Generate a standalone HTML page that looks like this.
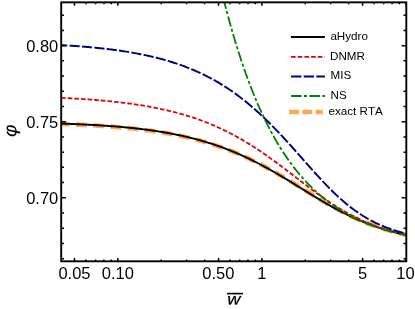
<!DOCTYPE html>
<html><head><meta charset="utf-8"><title>plot</title><style>html,body{margin:0;padding:0;background:#fff}svg{display:block;will-change:transform}</style></head><body>
<svg width="415" height="309" viewBox="0 0 415 309">
<rect width="415" height="309" fill="#fff"/>
<defs><clipPath id="c"><rect x="61.20" y="2.35" width="345.10" height="258.95"/></clipPath></defs>
<g clip-path="url(#c)" fill="none" stroke-linecap="butt" stroke-linejoin="round">
<path d="M61.20,123.94 L62.64,123.99 L64.09,124.05 L65.53,124.10 L66.98,124.16 L68.42,124.21 L69.86,124.27 L71.31,124.33 L72.75,124.39 L74.20,124.45 L75.64,124.52 L77.08,124.58 L78.53,124.65 L79.97,124.71 L81.42,124.78 L82.86,124.85 L84.30,124.93 L85.75,125.00 L87.19,125.08 L88.63,125.15 L90.08,125.23 L91.52,125.32 L92.97,125.40 L94.41,125.48 L95.85,125.57 L97.30,125.66 L98.74,125.75 L100.19,125.84 L101.63,125.94 L103.07,126.03 L104.52,126.13 L105.96,126.23 L107.41,126.34 L108.85,126.44 L110.29,126.55 L111.74,126.66 L113.18,126.77 L114.63,126.89 L116.07,127.01 L117.51,127.13 L118.96,127.25 L120.40,127.38 L121.85,127.51 L123.29,127.64 L124.73,127.77 L126.18,127.91 L127.62,128.05 L129.06,128.19 L130.51,128.34 L131.95,128.49 L133.40,128.64 L134.84,128.80 L136.28,128.96 L137.73,129.12 L139.17,129.29 L140.62,129.46 L142.06,129.64 L143.50,129.81 L144.95,130.00 L146.39,130.18 L147.84,130.37 L149.28,130.57 L150.72,130.76 L152.17,130.97 L153.61,131.17 L155.06,131.38 L156.50,131.60 L157.94,131.82 L159.39,132.04 L160.83,132.27 L162.28,132.50 L163.72,132.74 L165.16,132.99 L166.61,133.23 L168.05,133.49 L169.49,133.75 L170.94,134.01 L172.38,134.28 L173.83,134.56 L175.27,134.84 L176.71,135.12 L178.16,135.41 L179.60,135.71 L181.05,136.02 L182.49,136.33 L183.93,136.64 L185.38,136.96 L186.82,137.29 L188.27,137.63 L189.71,137.97 L191.15,138.32 L192.60,138.67 L194.04,139.03 L195.49,139.40 L196.93,139.78 L198.37,140.16 L199.82,140.55 L201.26,140.95 L202.71,141.35 L204.15,141.76 L205.59,142.18 L207.04,142.61 L208.48,143.04 L209.93,143.48 L211.37,143.94 L212.81,144.39 L214.26,144.86 L215.70,145.33 L217.14,145.82 L218.59,146.31 L220.03,146.81 L221.48,147.31 L222.92,147.83 L224.36,148.35 L225.81,148.89 L227.25,149.43 L228.70,149.98 L230.14,150.54 L231.58,151.11 L233.03,151.68 L234.47,152.27 L235.92,152.86 L237.36,153.47 L238.80,154.08 L240.25,154.70 L241.69,155.33 L243.14,155.97 L244.58,156.62 L246.02,157.27 L247.47,157.94 L248.91,158.61 L250.36,159.30 L251.80,159.99 L253.24,160.69 L254.69,161.40 L256.13,162.11 L257.57,162.84 L259.02,163.57 L260.46,164.32 L261.91,165.07 L263.35,165.83 L264.79,166.59 L266.24,167.37 L267.68,168.15 L269.13,168.94 L270.57,169.73 L272.01,170.54 L273.46,171.35 L274.90,172.16 L276.35,172.99 L277.79,173.82 L279.23,174.65 L280.68,175.49 L282.12,176.34 L283.57,177.19 L285.01,178.05 L286.45,178.91 L287.90,179.77 L289.34,180.64 L290.79,181.51 L292.23,182.39 L293.67,183.27 L295.12,184.15 L296.56,185.03 L298.01,185.92 L299.45,186.80 L300.89,187.69 L302.34,188.58 L303.78,189.47 L305.22,190.36 L306.67,191.24 L308.11,192.13 L309.56,193.02 L311.00,193.90 L312.44,194.78 L313.89,195.66 L315.33,196.54 L316.78,197.41 L318.22,198.28 L319.66,199.14 L321.11,200.00 L322.55,200.86 L324.00,201.71 L325.44,202.55 L326.88,203.39 L328.33,204.22 L329.77,205.04 L331.22,205.86 L332.66,206.67 L334.10,207.47 L335.55,208.26 L336.99,209.05 L338.44,209.82 L339.88,210.59 L341.32,211.35 L342.77,212.09 L344.21,212.83 L345.65,213.56 L347.10,214.28 L348.54,214.99 L349.99,215.69 L351.43,216.37 L352.87,217.05 L354.32,217.72 L355.76,218.37 L357.21,219.02 L358.65,219.65 L360.09,220.28 L361.54,220.89 L362.98,221.49 L364.43,222.08 L365.87,222.66 L367.31,223.23 L368.76,223.79 L370.20,224.33 L371.65,224.87 L373.09,225.40 L374.53,225.91 L375.98,226.42 L377.42,226.91 L378.87,227.40 L380.31,227.87 L381.75,228.34 L383.20,228.79 L384.64,229.24 L386.08,229.67 L387.53,230.10 L388.97,230.52 L390.42,230.93 L391.86,231.33 L393.30,231.72 L394.75,232.10 L396.19,232.47 L397.64,232.84 L399.08,233.20 L400.52,233.55 L401.97,233.89 L403.41,234.22 L404.86,234.55 L406.30,234.87" stroke="#ffa952" stroke-width="4.6" stroke-dasharray="11.05 6.2" stroke-dashoffset="2.45"/>
<path d="M61.20,123.59 L62.64,123.64 L64.09,123.68 L65.53,123.74 L66.98,123.79 L68.42,123.84 L69.86,123.89 L71.31,123.95 L72.75,124.01 L74.20,124.07 L75.64,124.12 L77.08,124.19 L78.53,124.25 L79.97,124.31 L81.42,124.38 L82.86,124.45 L84.30,124.52 L85.75,124.59 L87.19,124.66 L88.63,124.73 L90.08,124.81 L91.52,124.89 L92.97,124.97 L94.41,125.05 L95.85,125.13 L97.30,125.22 L98.74,125.30 L100.19,125.39 L101.63,125.49 L103.07,125.58 L104.52,125.68 L105.96,125.78 L107.41,125.88 L108.85,125.98 L110.29,126.09 L111.74,126.19 L113.18,126.30 L114.63,126.42 L116.07,126.53 L117.51,126.65 L118.96,126.77 L120.40,126.90 L121.85,127.03 L123.29,127.16 L124.73,127.29 L126.18,127.43 L127.62,127.56 L129.06,127.71 L130.51,127.85 L131.95,128.00 L133.40,128.16 L134.84,128.31 L136.28,128.47 L137.73,128.63 L139.17,128.80 L140.62,128.97 L142.06,129.15 L143.50,129.33 L144.95,129.51 L146.39,129.69 L147.84,129.89 L149.28,130.08 L150.72,130.28 L152.17,130.48 L153.61,130.69 L155.06,130.90 L156.50,131.12 L157.94,131.34 L159.39,131.57 L160.83,131.80 L162.28,132.04 L163.72,132.28 L165.16,132.53 L166.61,132.78 L168.05,133.04 L169.49,133.30 L170.94,133.57 L172.38,133.84 L173.83,134.12 L175.27,134.41 L176.71,134.70 L178.16,135.00 L179.60,135.30 L181.05,135.61 L182.49,135.92 L183.93,136.25 L185.38,136.58 L186.82,136.91 L188.27,137.25 L189.71,137.60 L191.15,137.96 L192.60,138.32 L194.04,138.69 L195.49,139.07 L196.93,139.45 L198.37,139.84 L199.82,140.24 L201.26,140.64 L202.71,141.06 L204.15,141.48 L205.59,141.91 L207.04,142.35 L208.48,142.79 L209.93,143.24 L211.37,143.70 L212.81,144.17 L214.26,144.65 L215.70,145.14 L217.14,145.63 L218.59,146.13 L220.03,146.64 L221.48,147.16 L222.92,147.69 L224.36,148.23 L225.81,148.77 L227.25,149.32 L228.70,149.89 L230.14,150.46 L231.58,151.04 L233.03,151.63 L234.47,152.23 L235.92,152.83 L237.36,153.45 L238.80,154.08 L240.25,154.71 L241.69,155.35 L243.14,156.00 L244.58,156.67 L246.02,157.34 L247.47,158.01 L248.91,158.70 L250.36,159.40 L251.80,160.10 L253.24,160.81 L254.69,161.54 L256.13,162.27 L257.57,163.00 L259.02,163.75 L260.46,164.51 L261.91,165.27 L263.35,166.04 L264.79,166.82 L266.24,167.60 L267.68,168.40 L269.13,169.20 L270.57,170.00 L272.01,170.82 L273.46,171.64 L274.90,172.47 L276.35,173.30 L277.79,174.14 L279.23,174.98 L280.68,175.83 L282.12,176.69 L283.57,177.55 L285.01,178.41 L286.45,179.28 L287.90,180.16 L289.34,181.03 L290.79,181.91 L292.23,182.80 L293.67,183.68 L295.12,184.57 L296.56,185.46 L298.01,186.35 L299.45,187.24 L300.89,188.13 L302.34,189.02 L303.78,189.92 L305.22,190.81 L306.67,191.70 L308.11,192.59 L309.56,193.48 L311.00,194.36 L312.44,195.24 L313.89,196.12 L315.33,197.00 L316.78,197.87 L318.22,198.74 L319.66,199.61 L321.11,200.47 L322.55,201.32 L324.00,202.17 L325.44,203.01 L326.88,203.84 L328.33,204.67 L329.77,205.49 L331.22,206.31 L332.66,207.11 L334.10,207.91 L335.55,208.70 L336.99,209.48 L338.44,210.25 L339.88,211.01 L341.32,211.76 L342.77,212.50 L344.21,213.24 L345.65,213.96 L347.10,214.67 L348.54,215.37 L349.99,216.06 L351.43,216.74 L352.87,217.41 L354.32,218.07 L355.76,218.72 L357.21,219.36 L358.65,219.99 L360.09,220.60 L361.54,221.20 L362.98,221.80 L364.43,222.38 L365.87,222.95 L367.31,223.51 L368.76,224.06 L370.20,224.60 L371.65,225.13 L373.09,225.65 L374.53,226.16 L375.98,226.66 L377.42,227.14 L378.87,227.62 L380.31,228.09 L381.75,228.55 L383.20,228.99 L384.64,229.43 L386.08,229.86 L387.53,230.28 L388.97,230.69 L390.42,231.10 L391.86,231.49 L393.30,231.87 L394.75,232.25 L396.19,232.62 L397.64,232.98 L399.08,233.33 L400.52,233.68 L401.97,234.01 L403.41,234.34 L404.86,234.66 L406.30,234.98" stroke="#000" stroke-width="1.9"/>
<path d="M61.20,97.83 L62.64,97.90 L64.09,97.97 L65.53,98.04 L66.98,98.12 L68.42,98.19 L69.86,98.27 L71.31,98.35 L72.75,98.43 L74.20,98.51 L75.64,98.60 L77.08,98.68 L78.53,98.77 L79.97,98.86 L81.42,98.95 L82.86,99.05 L84.30,99.15 L85.75,99.25 L87.19,99.35 L88.63,99.45 L90.08,99.56 L91.52,99.66 L92.97,99.78 L94.41,99.89 L95.85,100.00 L97.30,100.12 L98.74,100.24 L100.19,100.37 L101.63,100.49 L103.07,100.62 L104.52,100.76 L105.96,100.89 L107.41,101.03 L108.85,101.17 L110.29,101.32 L111.74,101.46 L113.18,101.61 L114.63,101.77 L116.07,101.93 L117.51,102.09 L118.96,102.25 L120.40,102.42 L121.85,102.59 L123.29,102.77 L124.73,102.95 L126.18,103.13 L127.62,103.32 L129.06,103.51 L130.51,103.71 L131.95,103.91 L133.40,104.11 L134.84,104.32 L136.28,104.53 L137.73,104.75 L139.17,104.98 L140.62,105.20 L142.06,105.44 L143.50,105.67 L144.95,105.92 L146.39,106.16 L147.84,106.42 L149.28,106.68 L150.72,106.94 L152.17,107.21 L153.61,107.48 L155.06,107.76 L156.50,108.05 L157.94,108.34 L159.39,108.64 L160.83,108.95 L162.28,109.26 L163.72,109.58 L165.16,109.90 L166.61,110.23 L168.05,110.57 L169.49,110.92 L170.94,111.27 L172.38,111.63 L173.83,112.00 L175.27,112.37 L176.71,112.75 L178.16,113.14 L179.60,113.54 L181.05,113.94 L182.49,114.35 L183.93,114.78 L185.38,115.20 L186.82,115.64 L188.27,116.09 L189.71,116.54 L191.15,117.01 L192.60,117.48 L194.04,117.96 L195.49,118.45 L196.93,118.95 L198.37,119.46 L199.82,119.97 L201.26,120.50 L202.71,121.04 L204.15,121.59 L205.59,122.14 L207.04,122.71 L208.48,123.29 L209.93,123.88 L211.37,124.47 L212.81,125.08 L214.26,125.70 L215.70,126.33 L217.14,126.97 L218.59,127.62 L220.03,128.28 L221.48,128.95 L222.92,129.64 L224.36,130.33 L225.81,131.04 L227.25,131.75 L228.70,132.48 L230.14,133.22 L231.58,133.97 L233.03,134.73 L234.47,135.51 L235.92,136.29 L237.36,137.09 L238.80,137.89 L240.25,138.71 L241.69,139.54 L243.14,140.38 L244.58,141.23 L246.02,142.10 L247.47,142.97 L248.91,143.86 L250.36,144.75 L251.80,145.66 L253.24,146.58 L254.69,147.50 L256.13,148.44 L257.57,149.39 L259.02,150.35 L260.46,151.32 L261.91,152.30 L263.35,153.29 L264.79,154.28 L266.24,155.29 L267.68,156.30 L269.13,157.33 L270.57,158.36 L272.01,159.40 L273.46,160.44 L274.90,161.50 L276.35,162.56 L277.79,163.63 L279.23,164.70 L280.68,165.78 L282.12,166.86 L283.57,167.95 L285.01,169.04 L286.45,170.14 L287.90,171.24 L289.34,172.35 L290.79,173.45 L292.23,174.56 L293.67,175.67 L295.12,176.78 L296.56,177.89 L298.01,179.00 L299.45,180.11 L300.89,181.22 L302.34,182.33 L303.78,183.43 L305.22,184.54 L306.67,185.63 L308.11,186.73 L309.56,187.82 L311.00,188.90 L312.44,189.98 L313.89,191.05 L315.33,192.12 L316.78,193.18 L318.22,194.23 L319.66,195.27 L321.11,196.30 L322.55,197.32 L324.00,198.34 L325.44,199.34 L326.88,200.33 L328.33,201.31 L329.77,202.28 L331.22,203.24 L332.66,204.18 L334.10,205.12 L335.55,206.04 L336.99,206.94 L338.44,207.84 L339.88,208.71 L341.32,209.58 L342.77,210.43 L344.21,211.27 L345.65,212.09 L347.10,212.90 L348.54,213.69 L349.99,214.47 L351.43,215.24 L352.87,215.99 L354.32,216.72 L355.76,217.44 L357.21,218.15 L358.65,218.84 L360.09,219.52 L361.54,220.18 L362.98,220.83 L364.43,221.47 L365.87,222.09 L367.31,222.70 L368.76,223.29 L370.20,223.88 L371.65,224.45 L373.09,225.00 L374.53,225.55 L375.98,226.08 L377.42,226.60 L378.87,227.11 L380.31,227.60 L381.75,228.09 L383.20,228.56 L384.64,229.02 L386.08,229.47 L387.53,229.92 L388.97,230.35 L390.42,230.77 L391.86,231.18 L393.30,231.58 L394.75,231.97 L396.19,232.36 L397.64,232.73 L399.08,233.10 L400.52,233.45 L401.97,233.80 L403.41,234.14 L404.86,234.47 L406.30,234.80" stroke="#e00000" stroke-width="1.8" stroke-dasharray="4.53 2.112" stroke-dashoffset="0.1"/>
<path d="M61.20,45.11 L62.64,45.19 L64.09,45.28 L65.53,45.37 L66.98,45.46 L68.42,45.55 L69.86,45.64 L71.31,45.74 L72.75,45.84 L74.20,45.94 L75.64,46.05 L77.08,46.15 L78.53,46.26 L79.97,46.37 L81.42,46.49 L82.86,46.60 L84.30,46.72 L85.75,46.84 L87.19,46.97 L88.63,47.09 L90.08,47.22 L91.52,47.36 L92.97,47.49 L94.41,47.63 L95.85,47.78 L97.30,47.92 L98.74,48.07 L100.19,48.22 L101.63,48.38 L103.07,48.54 L104.52,48.70 L105.96,48.87 L107.41,49.04 L108.85,49.21 L110.29,49.39 L111.74,49.57 L113.18,49.76 L114.63,49.95 L116.07,50.14 L117.51,50.34 L118.96,50.55 L120.40,50.75 L121.85,50.97 L123.29,51.18 L124.73,51.41 L126.18,51.63 L127.62,51.87 L129.06,52.10 L130.51,52.35 L131.95,52.59 L133.40,52.85 L134.84,53.11 L136.28,53.37 L137.73,53.64 L139.17,53.92 L140.62,54.20 L142.06,54.49 L143.50,54.79 L144.95,55.09 L146.39,55.40 L147.84,55.71 L149.28,56.03 L150.72,56.36 L152.17,56.70 L153.61,57.04 L155.06,57.39 L156.50,57.75 L157.94,58.12 L159.39,58.49 L160.83,58.87 L162.28,59.26 L163.72,59.66 L165.16,60.07 L166.61,60.48 L168.05,60.91 L169.49,61.34 L170.94,61.79 L172.38,62.24 L173.83,62.70 L175.27,63.17 L176.71,63.65 L178.16,64.14 L179.60,64.64 L181.05,65.15 L182.49,65.68 L183.93,66.21 L185.38,66.75 L186.82,67.31 L188.27,67.87 L189.71,68.45 L191.15,69.04 L192.60,69.64 L194.04,70.25 L195.49,70.88 L196.93,71.52 L198.37,72.17 L199.82,72.83 L201.26,73.51 L202.71,74.19 L204.15,74.90 L205.59,75.61 L207.04,76.34 L208.48,77.09 L209.93,77.85 L211.37,78.62 L212.81,79.40 L214.26,80.21 L215.70,81.02 L217.14,81.85 L218.59,82.70 L220.03,83.56 L221.48,84.44 L222.92,85.33 L224.36,86.24 L225.81,87.16 L227.25,88.10 L228.70,89.06 L230.14,90.04 L231.58,91.03 L233.03,92.03 L234.47,93.06 L235.92,94.10 L237.36,95.15 L238.80,96.23 L240.25,97.32 L241.69,98.43 L243.14,99.55 L244.58,100.69 L246.02,101.85 L247.47,103.03 L248.91,104.23 L250.36,105.44 L251.80,106.67 L253.24,107.91 L254.69,109.18 L256.13,110.46 L257.57,111.75 L259.02,113.07 L260.46,114.40 L261.91,115.74 L263.35,117.11 L264.79,118.49 L266.24,119.88 L267.68,121.29 L269.13,122.72 L270.57,124.16 L272.01,125.61 L273.46,127.08 L274.90,128.57 L276.35,130.06 L277.79,131.57 L279.23,133.09 L280.68,134.63 L282.12,136.17 L283.57,137.73 L285.01,139.30 L286.45,140.87 L287.90,142.46 L289.34,144.05 L290.79,145.66 L292.23,147.27 L293.67,148.88 L295.12,150.50 L296.56,152.13 L298.01,153.75 L299.45,155.39 L300.89,157.02 L302.34,158.65 L303.78,160.29 L305.22,161.92 L306.67,163.55 L308.11,165.18 L309.56,166.81 L311.00,168.43 L312.44,170.04 L313.89,171.65 L315.33,173.25 L316.78,174.84 L318.22,176.42 L319.66,177.99 L321.11,179.54 L322.55,181.09 L324.00,182.61 L325.44,184.13 L326.88,185.63 L328.33,187.11 L329.77,188.57 L331.22,190.02 L332.66,191.44 L334.10,192.85 L335.55,194.23 L336.99,195.59 L338.44,196.93 L339.88,198.25 L341.32,199.54 L342.77,200.81 L344.21,202.05 L345.65,203.27 L347.10,204.46 L348.54,205.63 L349.99,206.77 L351.43,207.89 L352.87,208.98 L354.32,210.05 L355.76,211.08 L357.21,212.10 L358.65,213.08 L360.09,214.04 L361.54,214.98 L362.98,215.89 L364.43,216.77 L365.87,217.64 L367.31,218.47 L368.76,219.29 L370.20,220.08 L371.65,220.84 L373.09,221.59 L374.53,222.31 L375.98,223.01 L377.42,223.69 L378.87,224.35 L380.31,225.00 L381.75,225.62 L383.20,226.22 L384.64,226.81 L386.08,227.38 L387.53,227.93 L388.97,228.46 L390.42,228.98 L391.86,229.49 L393.30,229.98 L394.75,230.45 L396.19,230.92 L397.64,231.36 L399.08,231.80 L400.52,232.22 L401.97,232.63 L403.41,233.03 L404.86,233.42 L406.30,233.80" stroke="#000087" stroke-width="1.95" stroke-dasharray="10.2 2.255" stroke-dashoffset="4.15"/>
<path d="M222.93,-3.65 L223.70,-0.58 L224.46,2.46 L225.23,5.46 L226.00,8.42 L226.77,11.35 L227.53,14.24 L228.30,17.09 L229.07,19.91 L229.83,22.70 L230.60,25.45 L231.37,28.17 L232.14,30.85 L232.90,33.51 L233.67,36.13 L234.44,38.72 L235.20,41.27 L235.97,43.80 L236.74,46.29 L237.51,48.76 L238.27,51.19 L239.04,53.60 L239.81,55.97 L240.58,58.32 L241.34,60.64 L242.11,62.93 L242.88,65.19 L243.64,67.42 L244.41,69.63 L245.18,71.81 L245.95,73.96 L246.71,76.09 L247.48,78.19 L248.25,80.27 L249.02,82.32 L249.78,84.34 L250.55,86.34 L251.32,88.32 L252.08,90.27 L252.85,92.20 L253.62,94.11 L254.39,95.99 L255.15,97.85 L255.92,99.68 L256.69,101.50 L257.45,103.29 L258.22,105.06 L258.99,106.81 L259.76,108.53 L260.52,110.24 L261.29,111.92 L262.06,113.59 L262.83,115.23 L263.59,116.86 L264.36,118.46 L265.13,120.05 L265.89,121.61 L266.66,123.16 L267.43,124.69 L268.20,126.20 L268.96,127.69 L269.73,129.16 L270.50,130.61 L271.27,132.05 L272.03,133.47 L272.80,134.87 L273.57,136.26 L274.33,137.62 L275.10,138.98 L275.87,140.31 L276.64,141.63 L277.40,142.93 L278.17,144.22 L278.94,145.49 L279.70,146.74 L280.47,147.98 L281.24,149.21 L282.01,150.42 L282.77,151.61 L283.54,152.80 L284.31,153.96 L285.08,155.11 L285.84,156.25 L286.61,157.38 L287.38,158.49 L288.14,159.58 L288.91,160.67 L289.68,161.74 L290.45,162.79 L291.21,163.84 L291.98,164.87 L292.75,165.89 L293.52,166.90 L294.28,167.89 L295.05,168.87 L295.82,169.84 L296.58,170.80 L297.35,171.75 L298.12,172.68 L298.89,173.61 L299.65,174.52 L300.42,175.42 L301.19,176.31 L301.95,177.19 L302.72,178.06 L303.49,178.92 L304.26,179.77 L305.02,180.61 L305.79,181.43 L306.56,182.25 L307.33,183.06 L308.09,183.86 L308.86,184.64 L309.63,185.42 L310.39,186.19 L311.16,186.95 L311.93,187.70 L312.70,188.44 L313.46,189.17 L314.23,189.90 L315.00,190.61 L315.77,191.31 L316.53,192.01 L317.30,192.70 L318.07,193.38 L318.83,194.05 L319.60,194.72 L320.37,195.37 L321.14,196.02 L321.90,196.66 L322.67,197.29 L323.44,197.91 L324.20,198.53 L324.97,199.14 L325.74,199.74 L326.51,200.33 L327.27,200.92 L328.04,201.50 L328.81,202.07 L329.58,202.64 L330.34,203.20 L331.11,203.75 L331.88,204.30 L332.64,204.83 L333.41,205.37 L334.18,205.89 L334.95,206.41 L335.71,206.92 L336.48,207.43 L337.25,207.93 L338.02,208.42 L338.78,208.91 L339.55,209.40 L340.32,209.87 L341.08,210.34 L341.85,210.81 L342.62,211.27 L343.39,211.72 L344.15,212.17 L344.92,212.61 L345.69,213.05 L346.46,213.48 L347.22,213.91 L347.99,214.33 L348.76,214.74 L349.52,215.16 L350.29,215.56 L351.06,215.96 L351.83,216.36 L352.59,216.75 L353.36,217.14 L354.13,217.52 L354.89,217.90 L355.66,218.27 L356.43,218.64 L357.20,219.00 L357.96,219.36 L358.73,219.72 L359.50,220.07 L360.27,220.41 L361.03,220.76 L361.80,221.09 L362.57,221.43 L363.33,221.76 L364.10,222.08 L364.87,222.41 L365.64,222.72 L366.40,223.04 L367.17,223.35 L367.94,223.65 L368.71,223.96 L369.47,224.26 L370.24,224.55 L371.01,224.84 L371.77,225.13 L372.54,225.42 L373.31,225.70 L374.08,225.97 L374.84,226.25 L375.61,226.52 L376.38,226.79 L377.14,227.05 L377.91,227.31 L378.68,227.57 L379.45,227.83 L380.21,228.08 L380.98,228.33 L381.75,228.57 L382.52,228.81 L383.28,229.05 L384.05,229.29 L384.82,229.53 L385.58,229.76 L386.35,229.98 L387.12,230.21 L387.89,230.43 L388.65,230.65 L389.42,230.87 L390.19,231.08 L390.96,231.30 L391.72,231.51 L392.49,231.71 L393.26,231.92 L394.02,232.12 L394.79,232.32 L395.56,232.52 L396.33,232.71 L397.09,232.90 L397.86,233.09 L398.63,233.28 L399.39,233.47 L400.16,233.65 L400.93,233.83 L401.70,234.01 L402.46,234.18 L403.23,234.36 L404.00,234.53 L404.77,234.70 L405.53,234.87 L406.30,235.04" stroke="#008000" stroke-width="1.8" stroke-dasharray="10.35 2.4 3.1 2.47" stroke-dashoffset="-2.4"/>
</g>
<g stroke="#000" fill="none">
<rect x="61.20" y="2.35" width="345.10" height="258.95" stroke-width="1.9"/>
<path d="M74.49,261.30v-3.30M74.49,2.35v3.30M85.89,261.30v-1.90M85.89,2.35v1.90M95.54,261.30v-1.90M95.54,2.35v1.90M103.89,261.30v-1.90M103.89,2.35v1.90M111.26,261.30v-1.90M111.26,2.35v1.90M117.85,261.30v-3.30M117.85,2.35v3.30M161.21,261.30v-1.90M161.21,2.35v1.90M186.58,261.30v-1.90M186.58,2.35v1.90M204.58,261.30v-1.90M204.58,2.35v1.90M218.54,261.30v-3.30M218.54,2.35v3.30M229.94,261.30v-1.90M229.94,2.35v1.90M239.59,261.30v-1.90M239.59,2.35v1.90M247.94,261.30v-1.90M247.94,2.35v1.90M255.31,261.30v-1.90M255.31,2.35v1.90M261.90,261.30v-3.30M261.90,2.35v3.30M305.26,261.30v-1.90M305.26,2.35v1.90M330.63,261.30v-1.90M330.63,2.35v1.90M348.63,261.30v-1.90M348.63,2.35v1.90M362.59,261.30v-3.30M362.59,2.35v3.30M373.99,261.30v-1.90M373.99,2.35v1.90M383.64,261.30v-1.90M383.64,2.35v1.90M391.99,261.30v-1.90M391.99,2.35v1.90M399.36,261.30v-1.90M399.36,2.35v1.90M405.95,261.30v-3.30M405.95,2.35v3.30M61.20,258.63h2.80M406.30,258.63h-2.80M61.20,243.41h2.80M406.30,243.41h-2.80M61.20,228.20h2.80M406.30,228.20h-2.80M61.20,212.98h2.80M406.30,212.98h-2.80M61.20,197.77h4.70M406.30,197.77h-4.70M61.20,182.56h2.80M406.30,182.56h-2.80M61.20,167.34h2.80M406.30,167.34h-2.80M61.20,152.13h2.80M406.30,152.13h-2.80M61.20,136.91h2.80M406.30,136.91h-2.80M61.20,121.70h4.70M406.30,121.70h-4.70M61.20,106.49h2.80M406.30,106.49h-2.80M61.20,91.27h2.80M406.30,91.27h-2.80M61.20,76.06h2.80M406.30,76.06h-2.80M61.20,60.84h2.80M406.30,60.84h-2.80M61.20,45.63h4.70M406.30,45.63h-4.70M61.20,30.42h2.80M406.30,30.42h-2.80M61.20,15.20h2.80M406.30,15.20h-2.80" stroke-width="1.5"/>
</g>
<g font-family="Liberation Sans, sans-serif" fill="#000">
<g font-size="16.5" text-anchor="end">
<text x="58.3" y="51.68">0.80</text>
<text x="58.3" y="127.75">0.75</text>
<text x="58.3" y="203.82">0.70</text>
</g>
<g font-size="16.5" text-anchor="middle">
<text x="74.49" y="279.0">0.05</text>
<text x="117.85" y="279.0">0.10</text>
<text x="218.34" y="279.0">0.50</text>
<text x="261.90" y="279.0">1</text>
<text x="362.59" y="279.0">5</text>
<text x="405.45" y="279.0">10</text>
</g>
<g font-size="11.65" style="font-kerning:none">
<text x="330.4" y="39.8">aHydro</text>
<text x="330.0" y="60.0">DNMR</text>
<text x="330.5" y="79.4">MIS</text>
<text x="330.5" y="98.9">NS</text>
<text x="328.5" y="114.5">exact RTA</text>
</g>
<path d="M977 1104Q1115 1104 1192.5 1006.0Q1270 908 1270 729Q1270 588 1229.5 441.0Q1189 294 1110.0 191.5Q1031 89 915.0 38.0Q799 -13 637 -18L558 -425H388L467 -18Q281 -10 176.0 109.0Q71 228 71 434Q71 706 209.5 888.0Q348 1070 586 1106L614 973Q495 945 416.5 871.0Q338 797 298.5 672.0Q259 547 259 423Q259 285 317.5 205.5Q376 126 494 119L606 699Q649 917 736.5 1010.5Q824 1104 977 1104ZM967 971Q894 971 848.5 906.0Q803 841 777 702L664 119Q775 122 851.0 165.0Q927 208 978.5 296.0Q1030 384 1058.5 519.5Q1087 655 1087 758Q1087 971 967 971Z" transform="matrix(0,-0.009341,-0.008785,0,16.366,137.013)" fill="#000" stroke="#000" stroke-width="14" stroke-linejoin="round"/>
<path d="M1068 0H859L822 698L816 934Q786 859 762.0 802.5Q738 746 402 0H194L102 1082H280L320 347L327 149L408 339L749 1082H942L986 339Q992 231 992 149Q1025 228 1413 1082H1589Z" transform="matrix(0.008877,0,0,-0.007856,227.295,304.500)" fill="#000" stroke="#000" stroke-width="30" stroke-linejoin="miter"/>
<path d="M227.05,293.6H242.95" stroke="#000" stroke-width="1.6"/>
</g>
<g fill="none">
<path d="M290.9,37.05H324.9" stroke="#000" stroke-width="1.9"/>
<path d="M291.0,56.85H324.9" stroke="#e00000" stroke-width="1.75" stroke-dasharray="4.6 2.12"/>
<path d="M291.1,76.4H324.9" stroke="#000087" stroke-width="1.95" stroke-dasharray="10.3 2.3"/>
<path d="M291.1,96.0H324.9" stroke="#008000" stroke-width="1.8" stroke-dasharray="10.4 2.4 3.1 2.5"/>
<path d="M289.2,112.1H322.9" stroke="#ffa952" stroke-width="4.5" stroke-dasharray="9.7 3.55"/>
</g>
</svg>
</body></html>
